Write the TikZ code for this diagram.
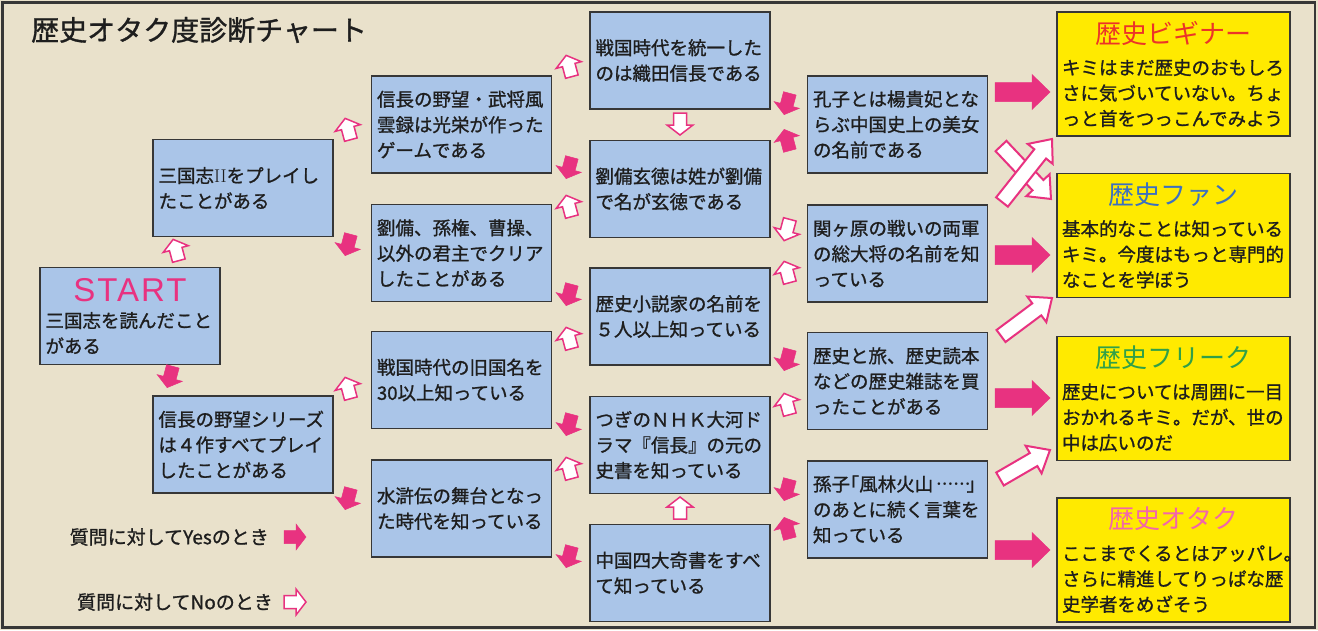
\documentclass[tikz,border=0pt]{standalone}
\usepackage{fontspec}
\newfontfamily\jp[BoldFont={Noto Sans CJK JP}, BoldFeatures={FakeBold=1.1}]{Noto Sans CJK JP}
\newfontfamily\startfont[LetterSpace=6]{Liberation Sans}
\usetikzlibrary{calc}
\definecolor{bgbeige}{RGB}{233,225,203}
\definecolor{qblue}{RGB}{170,197,232}
\definecolor{ansyellow}{RGB}{255,234,0}
\definecolor{arrowpink}{RGB}{232,50,128}
\definecolor{boxline}{RGB}{55,55,55}
\definecolor{txtgray}{RGB}{30,30,30}
\definecolor{begred}{RGB}{236,52,40}
\definecolor{fanblue}{RGB}{60,112,192}
\definecolor{freakgreen}{RGB}{48,160,72}
\definecolor{otakupink}{RGB}{242,102,170}
\tikzstyle{question}=[rectangle, draw=boxline, line width=1.2pt, fill=qblue,
  text width=169pt, align=left, minimum width=180pt, minimum height=97pt,
  inner xsep=5pt, text=txtgray, font=\jp\bfseries\fontsize{18.5}{25.5}\selectfont]
\tikzstyle{result}=[question, fill=ansyellow, text width=223pt,
  minimum width=233pt, minimum height=124pt]
\tikzstyle{legend}=[anchor=east, inner sep=0pt, text=txtgray,
  font=\jp\bfseries\fontsize{19}{20}\selectfont]
\tikzstyle{yesarr}=[fill=arrowpink, draw=arrowpink, line width=0.5pt, line join=miter]
\tikzstyle{noarr}=[fill=white, draw=arrowpink, line width=1.5pt, line join=miter]
\tikzset{blockarrow/.style args={#1/#2/#3}{to path={
  let \p1=(\tikztostart), \p2=(\tikztotarget),
      \n1={atan2(\y2-\y1,\x2-\x1)}, \n2={veclen(\x2-\x1,\y2-\y1)} in
  {[shift={(\p1)}, rotate=\n1] (0,-#1) -- ({\n2-#3},-#1) -- ({\n2-#3},-#2)
   -- (\n2,0) -- ({\n2-#3},#2) -- ({\n2-#3},#1) -- (0,#1) -- cycle}}}}
\tikzstyle{bigyes}=[yesarr, blockarrow=9.5/17.5/18]
\tikzstyle{bigno}=[noarr, line width=2pt, blockarrow=7.5/16/19]
% small block arrow: style, centre, direction
\newcommand{\smallarrow}[3]{%
  \filldraw[#1, shift={(#2)}, rotate=#3] (-11,-6.5) -- (1,-6.5) -- (1,-13)
    -- (11,0) -- (1,13) -- (1,6.5) -- (-11,6.5) -- cycle;}
\newcommand{\restitle}[2]{\makebox[\linewidth][c]{\mdseries\color{#1}\fontsize{26}{26}\selectfont #2}}
\newcommand{\dt}{\raisebox{.28em}{\rmfamily\bfseries .}}
\newcommand{\dotsix}{\makebox[1.8em][s]{\hspace{.15em}\dt\hfil\dt\hfil\dt\hfil\dt\hfil\dt\hfil\dt\hspace{.15em}}}

\begin{document}
\begin{tikzpicture}[x=1pt, y=-1pt]

    % page and frame
    \useasboundingbox (0,0) rectangle (1318,630);
    \fill[bgbeige] (0,0) rectangle (1318,630);
    \draw[boxline, line width=2.5pt] (2.5,2.5) rectangle (1315,627.5);

    \node[anchor=west, inner sep=0pt, text=txtgray, font=\jp\bfseries\fontsize{28}{28}\selectfont]
      (title) at (31,30) {歴史オタク度診断チャート};

    % column 0 and 1
    \node[question] (start) at (130,316)
      {\makebox[\linewidth][c]{\startfont\mdseries\color{arrowpink}\fontsize{33}{33}\selectfont START}\\[1pt]
       三国志を読んだこと\\がある};
    \node[question] (sangoku) at (243,188) {三国志{\rmfamily\mdseries II}をプレイし\\たことがある};
    \node[question] (nobuser) at (243,444.5) {信長の野望シリーズ\\は４作すべてプレイ\\したことがある};

    % column 2
    \node[question] (bushou) at (461.5,124.5) {信長の野望・武将風\\雲録は光栄が作った\\ゲームである};
    \node[question] (kunshu) at (461.5,253) {劉備、孫権、曹操、\\以外の君主でクリア\\したことがある};
    \node[question] (kyukoku) at (461.5,380) {戦国時代の旧国名を\\30以上知っている};
    \node[question] (suiko) at (461.5,508.5) {水滸伝の舞台となっ\\た時代を知っている};

    % column 3
    \node[question] (touitsu) at (680,60.5) {戦国時代を統一した\\のは織田信長である};
    \node[question] (gentoku) at (680,189) {劉備玄徳は姓が劉備\\で名が玄徳である};
    \node[question] (shosetsu) at (680,316.5) {歴史小説家の名前を\\５人以上知っている};
    \node[question] (taiga) at (680,445) {つぎのＮＨＫ大河ド\\ラマ『信長』の元の\\史書を知っている};
    \node[question] (kisho) at (680,573) {中国四大奇書をすべ\\て知っている};

    % column 4
    \node[question] (koushi) at (897.5,124.5) {孔子とは楊貴妃とな\\らぶ中国史上の美女\\の名前である};
    \node[question] (sekigahara) at (897.5,253.5) {関ヶ原の戦いの両軍\\の総大将の名前を知\\っている};
    \node[question] (tabi) at (897.5,381) {歴史と旅、歴史読本\\などの歴史雑誌を買\\ったことがある};
    \node[question] (sonshi) at (897.5,509.5)
      {孫子\kern-.5em「風林火山\dotsix」\\のあとに続く言葉を\\知っている};

    % results
    \node[result] (beginner) at (1173.5,74)
      {\restitle{begred}{歴史ビギナー}\\[6pt]
       キミはまだ歴史のおもしろ\\さに気づいていない。ちょ\\っと首をつっこんでみよう};
    \node[result] (fan) at (1173.5,235.5)
      {\restitle{fanblue}{歴史ファン}\\[6pt]
       基本的なことは知っている\\キミ。今度はもっと専門的\\なことを学ぼう};
    \node[result] (freak) at (1173.5,398.5)
      {\restitle{freakgreen}{歴史フリーク}\\[6pt]
       歴史については周囲に一目\\おかれるキミ。だが、世の\\中は広いのだ};
    \node[result] (otaku) at (1173.5,560)
      {\restitle{otakupink}{歴史オタク}\\[6pt]
       ここまでくるとはアッパレ。\\さらに精進してりっぱな歴\\史学者をめざそう};

    % legend
    \node[legend] (lgyes) at (269,537) {質問に対してYesのとき};
    \node[legend] (lgno) at (273,602) {質問に対してNoのとき};
    \smallarrow{yesarr}{295,537}{0}
    \smallarrow{noarr}{295,602}{0}

    % small arrows: No goes up, Yes goes down
    \foreach \x/\y in {176/250, 348/129, 348/388, 569/66, 569/206, 569/338, 569/468, 787/272, 787/404}
      \smallarrow{noarr}{\x,\y}{105};
    \foreach \x/\y in {170/377, 348/245, 348/499, 569/168, 569/295, 569/425, 569/557, 787/104, 787/360, 787/490}
      \smallarrow{yesarr}{\x,\y}{-105};
    \smallarrow{yesarr}{787,140}{105}
    \smallarrow{yesarr}{787,528}{105}
    \smallarrow{noarr}{787,230}{-105}
    \smallarrow{noarr}{680,124}{-90}
    \smallarrow{noarr}{680,508}{90}

    % big arrows into the results
    \coordinate (y1s) at (995,92);   \coordinate (y1e) at (1050,92);
    \coordinate (y2s) at (995,255);  \coordinate (y2e) at (1050,255);
    \coordinate (y3s) at (995,398);  \coordinate (y3e) at (1050,398);
    \coordinate (y4s) at (995,550);  \coordinate (y4e) at (1050,550);
    \coordinate (n1s) at (1001,146); \coordinate (n1e) at (1051,199);
    \coordinate (n2s) at (1002,202); \coordinate (n2e) at (1052,139);
    \coordinate (n3s) at (1001,336); \coordinate (n3e) at (1052,298);
    \coordinate (n4s) at (1000,479); \coordinate (n4e) at (1050,450);

    \draw[bigyes] (y1s) to (y1e);
    \draw[bigyes] (y2s) to (y2e);
    \draw[bigyes] (y3s) to (y3e);
    \draw[bigyes] (y4s) to (y4e);
    \draw[bigno] (n1s) to (n1e);
    \draw[bigno] (n2s) to (n2e);
    \draw[bigno] (n3s) to (n3e);
    \draw[bigno] (n4s) to (n4e);

\end{tikzpicture}
\end{document}
